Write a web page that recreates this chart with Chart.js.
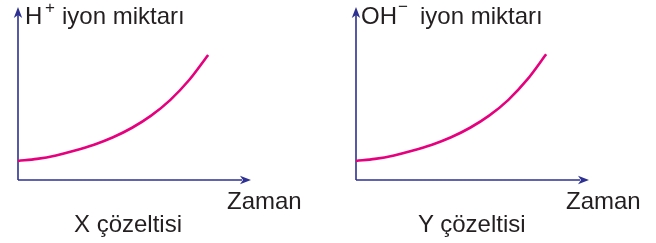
<!DOCTYPE html>
<html lang="tr">
<head>
  <meta charset="UTF-8">
  <title>İyon miktarı - zaman</title>
  <style>
    html, body { margin: 0; padding: 0; background: #fff; }
    #wrap { position: relative; width: 656px; height: 243px; overflow: hidden; }
    canvas { position: absolute; top: 0; }
    .lbl {
      position: absolute; white-space: nowrap; color: #231f20;
      font-family: "Liberation Sans", Arial, sans-serif; font-size: 24px; line-height: 24px;
    }
    .sup { font-size: 17px; line-height: 17px; }
  </style>
</head>
<body>
  <div id="wrap">
    <canvas id="chartX" width="330" height="243" style="left:0"></canvas>
    <canvas id="chartY" width="326" height="243" style="left:330px"></canvas>

    <span class="lbl" style="left:25px; top:3.7px">H</span>
    <span class="lbl sup" style="left:45px; top:-1px">+</span>
    <span class="lbl" style="left:62px; top:3.7px">iyon miktarı</span>
    <span class="lbl" style="left:227px; top:189px">Zaman</span>
    <span class="lbl" style="left:74px; top:211.7px">X çözeltisi</span>

    <span class="lbl" style="left:361px; top:3.7px">OH</span>
    <span class="lbl sup" style="left:398px; top:-2px">−</span>
    <span class="lbl" style="left:420px; top:3.7px">iyon miktarı</span>
    <span class="lbl" style="left:566px; top:189px">Zaman</span>
    <span class="lbl" style="left:418px; top:211.7px">Y çözeltisi</span>
  </div>

  <script src="https://cdn.jsdelivr.net/npm/chart.js"></script>
  <script>
    // time steps and read-off amounts (arbitrary units, y axis 0..10)
    const timeValues = [0, 1, 2, 3, 4, 5, 6, 7, 8, 9, 10];
    const hIonValues = [1.10, 1.22, 1.42, 1.70, 2.04, 2.47, 3.02, 3.72, 4.62, 5.78, 7.23];
    const ohIonValues = [1.10, 1.22, 1.42, 1.70, 2.04, 2.47, 3.02, 3.72, 4.62, 5.80, 7.27];

    const X_MAX = 12.2;
    const Y_MAX = 10;
    const AXIS_COLOR = '#2e3192';
    const CURVE_COLOR = '#e6007e';

    function arrowHead(ctx, x, y, dir) {
      const len = 11, half = 4.2, notch = 8;
      ctx.beginPath();
      if (dir === 'up') {
        ctx.moveTo(x, y);
        ctx.lineTo(x - half, y + len);
        ctx.lineTo(x, y + notch);
        ctx.lineTo(x + half, y + len);
      } else {
        ctx.moveTo(x, y);
        ctx.lineTo(x - len, y - half);
        ctx.lineTo(x - notch, y);
        ctx.lineTo(x - len, y + half);
      }
      ctx.closePath();
      ctx.fill();
    }

    const axisArrows = {
      id: 'axisArrows',
      beforeDatasetsDraw(chart) {
        const { ctx } = chart;
        const xs = chart.scales.x, ys = chart.scales.y;
        const x0 = xs.getPixelForValue(0), x1 = xs.getPixelForValue(X_MAX);
        const y0 = ys.getPixelForValue(0), y1 = ys.getPixelForValue(Y_MAX);
        ctx.save();
        ctx.strokeStyle = AXIS_COLOR;
        ctx.fillStyle = AXIS_COLOR;
        ctx.lineWidth = 1.6;
        ctx.beginPath();
        ctx.moveTo(x0, y0); ctx.lineTo(x0, y1 + 8);
        ctx.moveTo(x0, y0); ctx.lineTo(x1 - 8, y0);
        ctx.stroke();
        arrowHead(ctx, x0, y1, 'up');
        arrowHead(ctx, x1 + 1, y0, 'right');
        ctx.restore();
      }
    };

    function makeChart(id, values, padLeft, padRight) {
      const points = timeValues.map((t, i) => ({ x: t, y: values[i] }));
      return new Chart(document.getElementById(id), {
        type: 'line',
        data: {
          datasets: [{
            data: points,
            borderColor: CURVE_COLOR,
            borderWidth: 2.6,
            pointRadius: 0,
            cubicInterpolationMode: 'monotone',
            clip: false
          }]
        },
        options: {
          responsive: false,
          animation: false,
          devicePixelRatio: 1,
          layout: { padding: { left: padLeft, right: padRight, top: 7, bottom: 63 } },
          plugins: { legend: { display: false }, tooltip: { enabled: false } },
          scales: {
            x: { type: 'linear', min: 0, max: X_MAX, display: false },
            y: { type: 'linear', min: 0, max: Y_MAX, display: false }
          }
        },
        plugins: [axisArrows]
      });
    }

    makeChart('chartX', hIonValues, 18, 80);
    makeChart('chartY', ohIonValues, 26, 68);
  </script>
</body>
</html>
